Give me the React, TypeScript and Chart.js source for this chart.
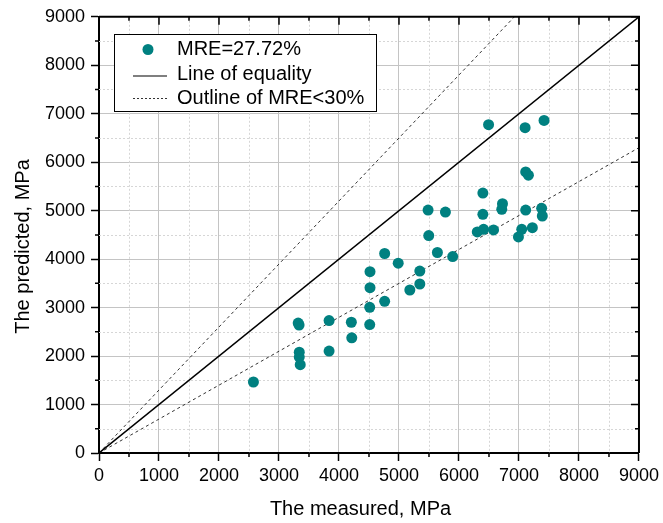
import React, { useEffect, useRef } from "react";
import { Chart, registerables } from "chart.js";

Chart.register(...registerables);

// Measured (x) and predicted (y) values, MPa
const measured = [
  2574, 3320, 3335, 3338, 3338, 3354, 3835, 3835, 4206, 4213,
  4517, 4517, 4512, 4512, 4761, 4761, 4987, 5181, 5347, 5347,
  5485, 5496, 5640, 5774, 5895, 6305, 6410, 6576, 6398, 6398,
  6493, 6725, 6713, 6991, 7046, 7112, 7223, 7112, 7157, 7102,
  7418, 7378, 7389,
];
const predicted = [
  1465, 2680, 2640, 2081, 1979, 1823, 2733, 2103, 2698, 2377,
  3740, 3411, 3006, 2650, 4116, 3130, 3917, 3363, 3753, 3487,
  5013, 4486, 4137, 4972, 4054, 4561, 4616, 4602, 4925, 5363,
  6775, 5143, 5027, 4458, 4616, 5013, 4650, 5800, 5732, 6712,
  6862, 5048, 4890,
];

// Reference lines (end points)
const equalityX = [0, 9000];
const equalityY = [0, 9000];
const upperX = [0, 6923];
const upperY = [0, 9000];
const lowerX = [0, 9000];
const lowerY = [0, 6300];

const axisMin = 0;
const axisMax = 9000;
const majorStep = 1000;
const minorStep = 500;

const seriesLabel = "MRE=27.72%";
const equalityLabel = "Line of equality";
const outlineLabel = "Outline of MRE<30%";
const xTitle = "The measured, MPa";
const yTitle = "The predicted, MPa";

const FONT = "'Liberation Sans', Arial, sans-serif";
const TEAL = "#008080";

const toXY = (xs: number[], ys: number[]) => xs.map((x, i) => ({ x, y: ys[i] }));

const framePlugin = {
  id: "frame",
  beforeDatasetsDraw(chart: any) {
    const { ctx, chartArea: a, scales } = chart;
    const xs = scales.x, ys = scales.y;
    ctx.save();
    ctx.strokeStyle = "#d6d6d6";
    ctx.lineWidth = 1;
    ctx.setLineDash([2, 2]);
    for (let v = axisMin + minorStep; v < axisMax; v += majorStep) {
      const px = Math.round(xs.getPixelForValue(v)) + 0.5;
      ctx.beginPath();
      ctx.moveTo(px, a.top);
      ctx.lineTo(px, a.bottom);
      ctx.stroke();
      const py = Math.round(ys.getPixelForValue(v)) + 0.5;
      ctx.beginPath();
      ctx.moveTo(a.left, py);
      ctx.lineTo(a.right, py);
      ctx.stroke();
    }
    ctx.restore();
  },
  afterDraw(chart: any) {
    const { ctx, chartArea: a, scales } = chart;
    const xs = scales.x, ys = scales.y;
    ctx.save();
    ctx.strokeStyle = "#000";
    ctx.lineWidth = 2;
    ctx.setLineDash([]);
    ctx.beginPath();
    ctx.moveTo(a.left, a.top);
    ctx.lineTo(a.right, a.top);
    ctx.lineTo(a.right, a.bottom);
    ctx.stroke();
    ctx.lineWidth = 1.5;
    for (let v = axisMin; v <= axisMax; v += minorStep) {
      const major = v % majorStep === 0;
      const len = major ? 8 : 4;
      const px = xs.getPixelForValue(v);
      const py = ys.getPixelForValue(v);
      ctx.beginPath();
      ctx.moveTo(px, a.top);
      ctx.lineTo(px, a.top + len);
      ctx.moveTo(a.right, py);
      ctx.lineTo(a.right - len, py);
      if (!major) {
        ctx.moveTo(px, a.bottom);
        ctx.lineTo(px, a.bottom + len);
        ctx.moveTo(a.left, py);
        ctx.lineTo(a.left - len, py);
      }
      ctx.stroke();
    }

    // Axis titles
    ctx.font = `20px ${FONT}`;
    ctx.fillStyle = "#000";
    ctx.textAlign = "center";
    ctx.textBaseline = "alphabetic";
    ctx.fillText(xTitle, 360.5, 515);
    ctx.save();
    ctx.translate(28.5, 246.5);
    ctx.rotate(-Math.PI / 2);
    ctx.fillText(yTitle, 0, 0);
    ctx.restore();

    // Legend
    const bx = 114, by = 34, bw = 262, bh = 77;
    ctx.fillStyle = "#fff";
    ctx.fillRect(bx, by, bw, bh);
    ctx.strokeStyle = "#000";
    ctx.lineWidth = 1;
    ctx.strokeRect(bx + 0.5, by + 0.5, bw, bh);
    const rows = [49.5, 74.5, 98.5];
    const ds = chart.data.datasets;
    ctx.font = `20px ${FONT}`;
    ctx.fillStyle = "#000";
    ctx.textBaseline = "middle";
    ctx.textAlign = "left";
    const labels = [ds[0].label, ds[1].label, ds[2].label];
    labels.forEach((t: string, i: number) => ctx.fillText(t, 177, rows[i]));
    ctx.fillStyle = TEAL;
    ctx.beginPath();
    ctx.arc(148, rows[0], 5.5, 0, Math.PI * 2);
    ctx.fill();
    ctx.strokeStyle = "#000";
    ctx.lineWidth = 1.2;
    ctx.beginPath();
    ctx.moveTo(133, rows[1] + 1.5);
    ctx.lineTo(167, rows[1] + 1.5);
    ctx.stroke();
    ctx.strokeStyle = "#333";
    ctx.lineWidth = 1;
    ctx.setLineDash([2, 2]);
    ctx.beginPath();
    ctx.moveTo(133, rows[2]);
    ctx.lineTo(167, rows[2]);
    ctx.stroke();
    ctx.restore();
  },
};

export default function App() {
  const ref = useRef<HTMLCanvasElement | null>(null);
  useEffect(() => {
    if (!ref.current) return;
    const plain = (v: any) => String(v);
    const chart = new Chart(ref.current, {
      type: "scatter",
      data: {
        datasets: [
          {
            label: seriesLabel,
            data: toXY(measured, predicted),
            backgroundColor: TEAL,
            borderColor: TEAL,
            pointRadius: 5.5,
            pointBorderWidth: 0,
          },
          {
            label: equalityLabel,
            type: "line",
            data: toXY(equalityX, equalityY),
            borderColor: "#000",
            borderWidth: 1.5,
            pointRadius: 0,
            fill: false,
          },
          {
            label: outlineLabel,
            type: "line",
            data: toXY(upperX, upperY),
            borderColor: "#333",
            borderWidth: 1,
            borderDash: [3, 3],
            pointRadius: 0,
            fill: false,
          },
          {
            label: outlineLabel,
            type: "line",
            data: toXY(lowerX, lowerY),
            borderColor: "#333",
            borderWidth: 1,
            borderDash: [3, 3],
            pointRadius: 0,
            fill: false,
          },
        ] as any,
      },
      options: {
        animation: false,
        responsive: false,
        layout: { padding: { top: 15, right: 22, left: 0, bottom: 0 } },
        plugins: { legend: { display: false }, tooltip: { enabled: false } },
        scales: {
          x: {
            type: "linear",
            min: axisMin,
            max: axisMax,
            afterFit: (s: any) => { s.height = 70; },
            ticks: {
              stepSize: majorStep,
              color: "#000",
              font: { family: FONT, size: 18 },
              padding: 4,
              maxRotation: 0,
              callback: plain,
            },
            grid: { color: "#c4c4c4", lineWidth: 1, tickColor: "#000", tickLength: 8, tickWidth: 1.5 },
            border: { display: true, color: "#000", width: 2 },
            title: { display: false, text: xTitle },
          },
          y: {
            type: "linear",
            min: axisMin,
            max: axisMax,
            afterFit: (s: any) => { s.width = 99; },
            ticks: {
              stepSize: majorStep,
              color: "#000",
              font: { family: FONT, size: 18 },
              padding: 6,
              callback: plain,
            },
            grid: { color: "#c4c4c4", lineWidth: 1, tickColor: "#000", tickLength: 8, tickWidth: 1.5 },
            border: { display: true, color: "#000", width: 2 },
            title: { display: false, text: yTitle },
          },
        },
      } as any,
      plugins: [framePlugin],
    });
    return () => chart.destroy();
  }, []);
  return (
    <div style={{ position: "absolute", left: 0, top: 0, width: 663, height: 523, background: "#fff" }}>
      <canvas ref={ref} width={663} height={523} />
    </div>
  );
}
